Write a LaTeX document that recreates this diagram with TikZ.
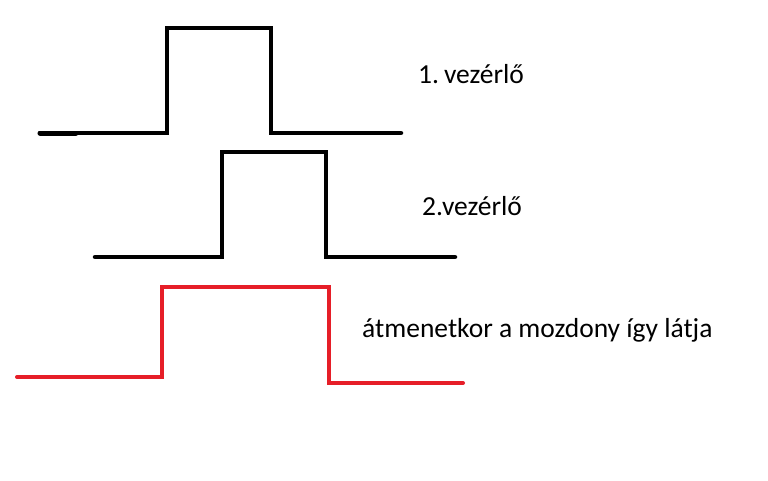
\documentclass[tikz,border=0pt]{standalone}
\usepackage{fontspec}
\setmainfont{Carlito}
\begin{document}
\begin{tikzpicture}[x=1pt,y=-1pt,
  wave/.style={line width=4.5pt,line join=miter},
  redwave/.style={line width=4pt,draw={rgb,255:red,230;green,30;blue,40},line join=miter},
  lbl/.style={anchor=base west,inner sep=0pt,font=\fontsize{27.5}{32}\selectfont}]
\useasboundingbox (0,0) rectangle (768,480);
\fill[white] (0,0) rectangle (768,480);
\draw[wave,line cap=round] (40,133) -- (167,133) -- (167,28) -- (271,28) -- (271,133) -- (401,133);
\draw[line width=5pt,line cap=round] (40,133) -- (76,133);
\draw[wave,line cap=round] (95,257) -- (222,257) -- (222,152) -- (326,152) -- (326,257) -- (455,257);
\draw[redwave,line cap=round] (17,377) -- (162,377) -- (162,287) -- (329,287) -- (329,383) -- (463,383);
\node[lbl] (l1) at (418,83) {1.\hspace{0.18em}vezérlő};
\node[lbl] (l2) at (422,215) {2.vezérlő};
\node[lbl] (l3) at (362,337) {átmenetkor a mozdony így látja};
\end{tikzpicture}
\end{document}
